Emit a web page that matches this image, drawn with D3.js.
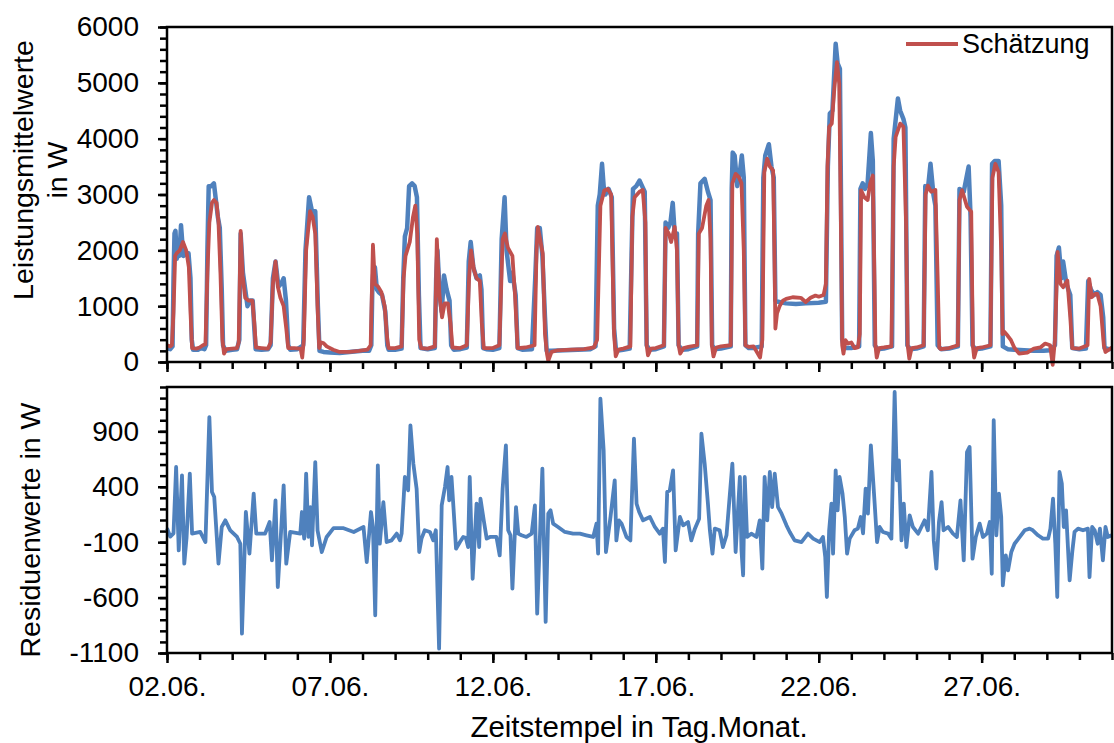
<!DOCTYPE html>
<html><head><meta charset="utf-8">
<script src="https://cdn.jsdelivr.net/npm/d3@7"></script>
<style>
html,body{margin:0;padding:0;background:#fff;}
svg{display:block;font-family:"Liberation Sans",Arial,sans-serif;}
</style></head><body>
<svg id="c" width="1114" height="743"></svg>
<script>
// x values are days since 02.06. 00:00
const xTickDays = [0,5,10,15,20,25];
const xTickLabels = ["02.06.","07.06.","12.06.","17.06.","22.06.","27.06."];
const topTicks = [0,1000,2000,3000,4000,5000,6000];
const bottomTicks = [-1100,-600,-100,400,900];

const messung = [
[0,250],[0.1,230],[0.17,280],[0.2,1500],[0.23,2300],[0.26,2350],[0.3,1850],[0.34,2000],[0.38,1900],[0.43,2450],[0.5,1900],[0.6,1950],[0.66,1950],[0.72,1500],[0.76,400],[0.8,220],[0.95,220],[1.05,250],[1.15,230],[1.2,300],[1.24,2000],[1.28,3150],[1.36,3150],[1.44,3200],[1.5,2900],[1.56,2600],[1.62,2400],[1.68,1300],[1.72,300],[1.8,200],[2.0,220],[2.15,230],[2.22,400],[2.26,2300],[2.33,1600],[2.4,1300],[2.47,1000],[2.55,1100],[2.63,1100],[2.68,600],[2.72,230],[2.9,220],[3.1,230],[3.18,300],[3.25,1500],[3.33,1800],[3.42,1350],[3.5,1400],[3.58,1500],[3.65,1100],[3.72,300],[3.78,220],[4.0,230],[4.18,300],[4.25,2000],[4.36,2950],[4.45,2700],[4.55,2700],[4.63,1000],[4.68,200],[4.8,180],[5.0,170],[5.3,160],[5.6,180],[6.0,200],[6.2,200],[6.27,300],[6.3,1300],[6.33,1600],[6.38,1700],[6.44,1300],[6.5,1250],[6.6,1200],[6.7,900],[6.76,300],[6.8,220],[7.0,220],[7.2,240],[7.25,1500],[7.3,2250],[7.37,2400],[7.43,3150],[7.52,3200],[7.6,3150],[7.67,2950],[7.73,1200],[7.78,250],[8.0,230],[8.22,250],[8.26,1500],[8.3,2000],[8.37,1200],[8.43,900],[8.5,1550],[8.58,1300],[8.67,1100],[8.72,300],[8.8,220],[9.0,230],[9.2,260],[9.26,1800],[9.32,2150],[9.4,1700],[9.5,1500],[9.6,1550],[9.65,1300],[9.7,250],[9.8,230],[10.0,220],[10.2,250],[10.27,2200],[10.36,2950],[10.42,2000],[10.53,1450],[10.6,1600],[10.7,1200],[10.76,250],[10.9,220],[11.2,230],[11.3,1500],[11.36,2400],[11.44,2400],[11.52,1900],[11.6,800],[11.65,200],[11.8,200],[12.2,210],[12.6,220],[13.0,230],[13.15,280],[13.22,2800],[13.28,3000],[13.35,3550],[13.4,3150],[13.45,3000],[13.55,3100],[13.65,2950],[13.72,600],[13.78,200],[14.0,220],[14.2,240],[14.26,2000],[14.3,3100],[14.4,3150],[14.5,3250],[14.58,3150],[14.66,3050],[14.72,300],[14.8,220],[15.0,230],[15.25,280],[15.3,2500],[15.38,2400],[15.45,2500],[15.52,2850],[15.58,2300],[15.65,2300],[15.7,300],[15.8,220],[16.0,230],[16.27,280],[16.3,2300],[16.37,3200],[16.5,3280],[16.6,3050],[16.68,2900],[16.73,300],[16.8,230],[17.0,240],[17.3,280],[17.33,3100],[17.36,3750],[17.42,3700],[17.5,3150],[17.58,3400],[17.64,3700],[17.7,3300],[17.75,300],[17.85,250],[18.0,250],[18.25,280],[18.3,3300],[18.36,3700],[18.47,3900],[18.55,3500],[18.62,3300],[18.67,1100],[18.75,1080],[19.0,1050],[19.3,1040],[19.6,1050],[20.0,1060],[20.22,1080],[20.28,3500],[20.34,4450],[20.42,4500],[20.52,5700],[20.58,5350],[20.65,5250],[20.72,400],[20.78,250],[21.0,250],[21.24,280],[21.28,3100],[21.35,3200],[21.42,3100],[21.5,3200],[21.6,4100],[21.66,3600],[21.72,300],[21.8,230],[22.0,240],[22.25,280],[22.3,4000],[22.43,4720],[22.5,4500],[22.6,4350],[22.66,4200],[22.72,300],[22.8,230],[23.0,240],[23.22,280],[23.27,3150],[23.35,3100],[23.43,3550],[23.52,3000],[23.58,2800],[23.65,300],[23.75,230],[24.0,240],[24.27,280],[24.32,3100],[24.45,3050],[24.6,3500],[24.66,2600],[24.72,300],[24.8,230],[25.0,240],[25.27,280],[25.32,3550],[25.4,3600],[25.52,3600],[25.6,2800],[25.65,280],[25.8,230],[26.0,220],[26.3,210],[26.6,200],[26.9,200],[27.1,210],[27.25,300],[27.3,1900],[27.37,2050],[27.45,1500],[27.5,1800],[27.6,1400],[27.72,1200],[27.78,250],[28.0,230],[28.2,240],[28.27,1450],[28.35,1300],[28.45,1200],[28.55,1250],[28.65,1200],[28.73,800],[28.77,250],[28.9,230],[29.0,240]
];

const schaetzung = [
[0,300],[0.1,280],[0.15,300],[0.2,900],[0.25,1900],[0.3,1950],[0.39,2000],[0.49,2150],[0.59,2000],[0.67,1700],[0.72,900],[0.77,250],[0.9,240],[1.0,260],[1.1,300],[1.18,320],[1.24,1600],[1.3,2500],[1.38,2850],[1.44,2900],[1.52,2850],[1.58,2500],[1.64,1600],[1.7,400],[1.75,150],[1.82,230],[2.0,240],[2.15,250],[2.2,350],[2.26,2350],[2.32,1550],[2.4,1150],[2.5,1100],[2.62,1100],[2.68,700],[2.73,260],[2.9,250],[3.1,240],[3.18,350],[3.25,1400],[3.33,1800],[3.4,1350],[3.48,1150],[3.58,1000],[3.66,600],[3.72,250],[3.9,250],[4.1,240],[4.15,80],[4.2,400],[4.27,2000],[4.39,2700],[4.47,2600],[4.55,2300],[4.62,1000],[4.67,250],[4.72,350],[4.8,340],[4.9,280],[5.1,220],[5.3,180],[5.6,180],[5.9,200],[6.15,220],[6.25,300],[6.32,2100],[6.38,1400],[6.48,1350],[6.58,1250],[6.68,1000],[6.76,400],[6.8,250],[7.0,250],[7.2,280],[7.26,1500],[7.32,1900],[7.45,2150],[7.55,2600],[7.62,2800],[7.68,2300],[7.74,400],[7.8,250],[8.0,240],[8.22,280],[8.28,2200],[8.36,1200],[8.44,800],[8.52,1050],[8.62,1050],[8.7,700],[8.76,260],[9.0,250],[9.2,300],[9.27,1500],[9.33,2000],[9.42,1650],[9.5,1500],[9.6,1450],[9.66,700],[9.72,250],[10.0,250],[10.2,300],[10.3,2200],[10.37,2300],[10.46,2050],[10.6,1900],[10.68,1200],[10.76,250],[11.0,260],[11.28,300],[11.34,2000],[11.38,2420],[11.45,2200],[11.53,1940],[11.6,500],[11.66,150],[11.7,20],[11.8,180],[12.0,210],[12.4,220],[12.8,230],[13.1,260],[13.2,400],[13.3,2800],[13.42,3070],[13.53,3100],[13.63,3000],[13.72,500],[13.77,100],[13.85,220],[14.0,240],[14.22,280],[14.28,2600],[14.35,2950],[14.5,3050],[14.6,3080],[14.68,2500],[14.72,300],[14.76,120],[14.85,240],[15.0,250],[15.25,300],[15.3,2400],[15.4,2300],[15.47,2150],[15.58,2420],[15.65,2000],[15.7,300],[15.75,150],[15.85,250],[16.0,270],[16.27,300],[16.32,2300],[16.42,2400],[16.55,2800],[16.62,2900],[16.68,2200],[16.72,300],[16.77,100],[16.85,260],[17.0,280],[17.3,300],[17.35,3200],[17.45,3370],[17.55,3310],[17.63,3200],[17.7,2000],[17.75,300],[17.85,270],[18.0,280],[18.2,80],[18.27,400],[18.33,3400],[18.42,3640],[18.5,3500],[18.6,3430],[18.64,2000],[18.67,600],[18.72,870],[18.8,1000],[18.9,1100],[19.0,1130],[19.2,1160],[19.45,1150],[19.6,1075],[19.75,1150],[19.9,1190],[20.0,1170],[20.15,1200],[20.22,1400],[20.27,3500],[20.32,4210],[20.4,4270],[20.48,4900],[20.56,5370],[20.63,4980],[20.68,2500],[20.72,300],[20.76,150],[20.82,390],[20.9,330],[21.0,350],[21.1,250],[21.2,260],[21.26,500],[21.3,3075],[21.4,2950],[21.5,2900],[21.58,3200],[21.66,3340],[21.71,1500],[21.74,300],[21.78,80],[21.85,250],[22.0,260],[22.23,280],[22.3,3500],[22.36,4030],[22.5,4270],[22.6,4210],[22.68,2500],[22.73,300],[22.78,60],[22.85,250],[23.0,260],[23.22,300],[23.28,3000],[23.35,3160],[23.45,3050],[23.58,3080],[23.65,1500],[23.7,250],[23.75,230],[24.0,250],[24.27,300],[24.32,2900],[24.4,3075],[24.55,2780],[24.68,2690],[24.73,300],[24.77,80],[24.85,250],[25.0,260],[25.27,300],[25.33,3300],[25.42,3550],[25.52,3400],[25.6,2000],[25.64,500],[25.7,540],[25.8,470],[25.9,390],[26.0,260],[26.15,150],[26.4,170],[26.6,240],[26.8,260],[26.95,330],[27.1,300],[27.18,-50],[27.25,400],[27.33,1970],[27.42,1400],[27.5,1340],[27.63,1460],[27.72,800],[27.78,250],[28.0,240],[28.25,300],[28.3,1490],[28.38,1160],[28.48,1220],[28.55,1220],[28.65,1000],[28.75,300],[28.8,180],[28.9,220],[29.0,260]
];

const residuen = [
[0,26],[0.1,-50],[0.2,-20],[0.28,578],[0.36,-174],[0.46,503],[0.53,-294],[0.6,-60],[0.7,518],[0.77,-23],[1.02,-8],[1.18,-99],[1.3,1029],[1.38,353],[1.45,307],[1.58,-294],[1.68,37],[1.79,97],[1.94,7],[2.15,-53],[2.25,-114],[2.3,-926],[2.42,172],[2.53,-204],[2.66,337],[2.74,-23],[2.91,-23],[3.01,-23],[3.15,82],[3.22,-264],[3.33,277],[3.4,-505],[3.5,-8],[3.58,413],[3.66,-294],[3.78,-8],[4.09,-23],[4.14,172],[4.21,-68],[4.27,518],[4.34,-53],[4.4,217],[4.45,-129],[4.55,623],[4.62,7],[4.75,-189],[4.9,-53],[5.11,26],[5.42,26],[5.73,-8],[6.03,37],[6.13,-279],[6.26,172],[6.32,37],[6.39,-760],[6.47,593],[6.53,-114],[6.64,262],[6.74,-99],[6.89,-84],[7.05,-23],[7.15,-84],
[7.2,-23],[7.3,488],[7.4,368],[7.47,954],[7.56,608],[7.66,383],[7.74,-189],[7.81,-68],[7.91,7],[8.07,-8],[8.17,-84],[8.25,7],[8.35,-1061],[8.43,232],[8.53,398],[8.61,578],[8.66,277],[8.73,488],[8.8,172],[8.87,-159],[8.99,-99],[9.09,-53],[9.17,-60],[9.24,-144],[9.29,488],[9.38,-430],[9.5,247],[9.58,-144],[9.62,292],[9.72,97],[9.81,-68],[9.91,-53],[10.11,-53],[10.21,-219],[10.3,383],[10.4,774],[10.47,7],[10.54,-38],[10.6,-520],[10.71,217],[10.78,-23],[10.88,-38],[11.03,-53],[11.19,-23],[11.29,232],[11.36,-745],[11.44,-84],[11.52,563],[11.62,-820],[11.7,157],[11.77,187],[11.85,67],[12.0,37],[12.21,-8],[12.46,-23],[12.67,-23],[12.87,-38],[13.08,-53],[13.18,67],[13.23,-204],[13.3,1195],[13.4,728],[13.47,-189],[13.61,128],[13.74,458],[13.79,-84],[13.87,97],[13.95,67],[14.1,-53],[14.22,-84],[14.33,834],[14.41,247],[14.49,172],[14.61,97],[14.82,127],[14.97,37],[15.12,-23],[15.22,22],[15.28,-279],[15.35,353],[15.43,368],[15.53,548],[15.61,-174],[15.74,127],[15.84,52],[15.99,82],[16.09,-84],[16.2,22],[16.33,112],[16.4,879],[16.5,608],[16.6,247],[16.66,7],[16.74,-204],[16.81,22],[16.96,7],[17.06,-144],[17.17,-38],[17.27,322],[17.35,608],[17.45,-189],[17.58,488],
[17.63,-174],[17.68,-400],[17.73,488],[17.8,-53],[17.93,-23],[18.09,-53],[18.19,97],[18.27,-339],[18.34,488],[18.42,97],[18.5,533],[18.57,217],[18.65,518],[18.75,217],[18.86,157],[19.01,52],[19.11,-8],[19.26,-84],[19.47,-99],[19.67,-23],[19.83,-68],[20.03,-99],[20.13,-53],[20.2,-234],[20.25,-595],[20.32,7],[20.39,247],[20.44,-204],[20.52,548],[20.58,187],[20.64,488],[20.73,338],[20.8,127],[20.87,-204],[20.95,-68],[21.1,7],[21.2,22],[21.29,127],[21.36,-20],[21.44,383],[21.51,157],[21.6,774],[21.65,548],[21.72,232],[21.79,-99],[21.87,37],[21.97,-8],[22.13,-23],[22.23,-68],[22.33,1255],[22.4,458],[22.46,638],[22.54,-84],[22.61,247],[22.69,-144],[22.79,142],[22.89,37],[23.05,-23],[23.15,37],[23.25,97],[23.35,7],[23.46,533],[23.53,-84],[23.61,-339],[23.69,82],[23.77,262],[23.83,7],[23.97,37],[24.12,-23],[24.24,-53],[24.35,277],[24.45,-264],[24.55,713],[24.63,759],[24.72,-249],[24.82,-53],[24.94,67],[25.04,-53],[25.16,-23],[25.25,82],[25.31,-385],[25.37,1000],[25.45,-38],[25.53,338],[25.6,127],[25.65,-490],[25.74,-219],[25.81,-355],[25.91,-189],[26.01,-114],[26.17,-53],[26.32,7],[26.47,22],[26.57,7],[26.73,-38],[26.88,-68],[27.04,-68],[27.11,22],[27.19,292],[27.26,-114],[27.32,-595],[27.39,533],[27.46,428],[27.52,37],[27.59,187],[27.7,-445],[27.78,-189],[27.85,-8],[27.96,22],[28.11,7],[28.26,22],[28.31,-415],[28.39,37],[28.47,7],[28.56,-114],[28.63,22],[28.72,-264],[28.8,37],[28.87,-53],[28.98,-38]
];

const blue = "#4F81BD", red = "#C0504D";
const svg = d3.select("#c");
const L = 167, R = 1112;
const top1 = 27, bot1 = 362, top2 = 387, bot2 = 653;

const x = d3.scaleLinear().domain([0,29]).range([L,R]);
const y1 = d3.scaleLinear().domain([0,6000]).range([bot1,top1]);
const y2 = d3.scaleLinear().domain([-1100,1300]).range([bot2,top2]);

const fs = 28;

function styleAxis(g){
  g.select(".domain").remove();
  g.selectAll(".tick line").attr("stroke","#000").attr("stroke-width",2.5);
  g.selectAll(".tick text").attr("font-size",fs).attr("fill","#000").attr("font-family","Liberation Sans, Arial, sans-serif");
}
const plain = d => String(d);

// minor & major y ticks
const minor1 = d3.range(0,6001,200);
const minor2 = d3.range(-1100,1301,100);
svg.append("g").attr("transform",`translate(${L},0)`).call(d3.axisLeft(y1).tickValues(minor1).tickSize(7).tickFormat("")).call(styleAxis);
svg.append("g").attr("transform",`translate(${L},0)`).call(d3.axisLeft(y1).tickValues(topTicks).tickSize(9).tickPadding(19).tickFormat(plain)).call(styleAxis);
svg.append("g").attr("transform",`translate(${L},0)`).call(d3.axisLeft(y2).tickValues(minor2).tickSize(7).tickFormat("")).call(styleAxis);
svg.append("g").attr("transform",`translate(${L},0)`).call(d3.axisLeft(y2).tickValues(bottomTicks).tickSize(9).tickPadding(19).tickFormat(plain)).call(styleAxis);

// x ticks
const dayTicks = d3.range(0,30,1);
[bot1,bot2].forEach((yy,i)=>{
  svg.append("g").attr("transform",`translate(0,${yy})`).call(d3.axisBottom(x).tickValues(dayTicks).tickSize(7).tickFormat("")).call(styleAxis);
  const ax = d3.axisBottom(x).tickValues(xTickDays).tickSize(10).tickPadding(13);
  ax.tickFormat(i===1 ? ((d,k)=>xTickLabels[k]) : "");
  svg.append("g").attr("transform",`translate(0,${yy})`).call(ax).call(styleAxis);
});

// lines
const line1 = d3.line().x(d=>x(d[0])).y(d=>y1(d[1]));
const line2 = d3.line().x(d=>x(d[0])).y(d=>y2(d[1]));
svg.append("path").datum(messung).attr("d",line1).attr("fill","none").attr("stroke",blue).attr("stroke-width",4.5).attr("stroke-linejoin","round");
svg.append("path").datum(schaetzung).attr("d",line1).attr("fill","none").attr("stroke",red).attr("stroke-width",3.8).attr("stroke-linejoin","round");
svg.append("path").datum(residuen).attr("d",line2).attr("fill","none").attr("stroke",blue).attr("stroke-width",3.8).attr("stroke-linejoin","round");

// frames
svg.append("rect").attr("x",L).attr("y",top1).attr("width",R-L).attr("height",bot1-top1).attr("fill","none").attr("stroke","#000").attr("stroke-width",2.5);
svg.append("rect").attr("x",L).attr("y",top2).attr("width",R-L).attr("height",bot2-top2).attr("fill","none").attr("stroke","#000").attr("stroke-width",2.5);

// legend
svg.append("line").attr("x1",906).attr("x2",958).attr("y1",44).attr("y2",44).attr("stroke",red).attr("stroke-width",3.8);
svg.append("text").attr("x",962).attr("y",53).attr("font-size",27).text("Schätzung");

// axis titles
svg.append("text").attr("transform","translate(33,170) rotate(-90)").attr("text-anchor","middle").attr("font-size",28.5).text("Leistungsmittelwerte");
svg.append("text").attr("transform","translate(67,170) rotate(-90)").attr("text-anchor","middle").attr("font-size",28.5).text("in W");
svg.append("text").attr("transform","translate(40,530) rotate(-90)").attr("text-anchor","middle").attr("font-size",28.5).text("Residuenwerte in W");
svg.append("text").attr("x",639).attr("y",737).attr("text-anchor","middle").attr("font-size",29.5).text("Zeitstempel in Tag.Monat.");
</script>
</body></html>
